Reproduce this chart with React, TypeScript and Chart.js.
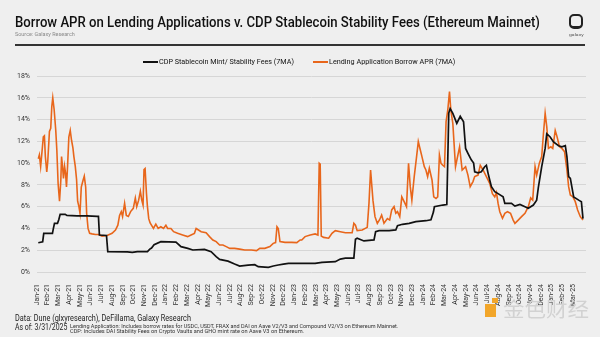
import React, { useEffect, useLayoutEffect, useRef } from "react";
import { Chart, registerables } from "chart.js";
Chart.register(...registerables);

const monthLabels = [
  "Jan-21","Feb-21","Mar-21","Apr-21","May-21","Jun-21","Jul-21","Aug-21","Sep-21","Oct-21","Nov-21","Dec-21",
  "Jan-22","Feb-22","Mar-22","Apr-22","May-22","Jun-22","Jul-22","Aug-22","Sep-22","Oct-22","Nov-22","Dec-22",
  "Jan-23","Feb-23","Mar-23","Apr-23","May-23","Jun-23","Jul-23","Aug-23","Sep-23","Oct-23","Nov-23","Dec-23",
  "Jan-24","Feb-24","Mar-24","Apr-24","May-24","Jun-24","Jul-24","Aug-24","Sep-24","Oct-24","Nov-24","Dec-24",
  "Jan-25","Feb-25","Mar-25",
];

// x = months since Jan 1 2021
const cdpMonths = [0.12,0.53,0.63,1.22,1.44,1.53,1.63,1.91,2.03,2.16,2.63,2.79,3.73,4.67,5.61,5.73,5.82,6.48,6.6,8.42,8.89,9.36,10.3,10.52,10.68,10.92,11.55,12.96,13.43,14.06,14.53,15.62,16.24,16.71,17.03,17.81,18.43,18.9,19.69,20.31,20.63,21.57,22.04,22.5,22.98,23.45,24.69,25.94,26.57,27.82,28.29,28.76,29.55,29.7,29.86,30.49,30.96,31.43,31.58,31.9,32.84,33.46,33.62,34.08,34.71,35.33,36.27,36.74,36.97,37.06,37.84,38.22,38.4,38.53,38.78,39.15,39.47,39.78,39.97,40.19,40.5,40.72,40.82,41.13,41.44,41.75,41.91,42.07,42.22,42.38,42.69,43.0,43.47,43.63,44.25,44.57,45.04,45.51,45.82,46.29,46.6,46.76,47.07,47.39,47.54,47.86,48.17,48.64,48.95,49.27,49.42,49.58,49.74,50.05,50.52,50.77,50.92];
const cdpValues = [2.69,2.78,3.55,3.55,3.55,4.0,4.47,4.47,4.8,5.3,5.3,5.2,5.15,5.15,5.1,5.1,3.4,3.35,1.87,1.85,1.8,1.87,1.87,2.1,2.2,2.5,2.79,2.75,2.33,2.17,2.02,2.08,1.87,1.41,1.16,1.0,0.73,0.55,0.64,0.67,0.49,0.43,0.55,0.64,0.73,0.79,0.79,0.79,0.89,0.95,1.19,1.28,1.28,3.0,3.1,2.85,2.9,2.95,3.7,3.8,3.8,3.86,4.25,4.38,4.47,4.62,4.71,4.8,5.5,5.99,6.15,6.2,14.6,15.0,14.57,13.65,14.3,13.8,11.35,10.9,10.3,10.0,9.2,9.1,9.2,9.67,9.8,9.06,8.45,7.84,7.38,7.2,6.9,6.3,6.3,6.05,6.2,6.0,5.85,6.15,6.6,7.8,9.67,11.35,12.7,12.4,11.95,11.6,11.5,11.6,10.6,8.76,8.6,6.9,6.6,6.46,4.9];

const lendMonths = [0.12,0.22,0.34,0.44,0.59,0.69,0.78,0.91,1.0,1.16,1.28,1.38,1.47,1.6,1.75,1.85,1.97,2.1,2.22,2.29,2.38,2.47,2.57,2.66,2.75,2.85,2.97,3.1,3.22,3.35,3.44,3.57,3.69,3.79,3.91,4.01,4.13,4.29,4.41,4.54,4.63,4.76,4.91,5.13,5.45,5.76,6.07,6.54,7.0,7.32,7.54,7.7,7.86,7.98,8.17,8.33,8.52,8.73,8.98,9.17,9.3,9.48,9.64,9.77,9.89,9.98,10.08,10.21,10.3,10.42,10.55,
  10.86,11.08,11.3,11.55,11.8,12.02,12.18,12.49,12.74,13.11,13.58,14.05,14.37,14.68,14.84,14.99,15.31,15.77,16.09,16.4,16.71,17.03,17.34,17.65,17.97,18.43,18.9,19.37,20.0,20.47,20.78,21.25,21.72,22.03,22.25,22.38,22.5,22.66,23.13,23.76,24.23,24.54,24.69,
  25.0,25.48,25.94,26.2,26.32,26.41,26.51,26.73,27.2,27.51,27.82,28.29,28.76,29.39,29.55,29.7,29.86,30.33,30.8,30.96,31.11,31.33,31.52,31.74,31.95,32.14,32.36,32.68,32.89,33.08,33.3,33.46,33.62,33.83,34.02,34.24,34.46,34.65,34.81,34.96,35.18,35.4,35.56,35.71,35.9,36.12,36.27,36.43,36.59,36.84,37.0,37.21,37.37,37.53,37.68,37.84,38.0,38.15,38.31,38.47,38.59,
  38.78,39.03,39.41,39.65,39.97,40.19,40.4,40.66,40.82,41.13,41.34,41.6,41.91,42.22,42.47,42.69,42.85,43.0,43.16,43.41,43.63,43.88,44.16,44.41,44.57,44.88,45.19,45.51,45.82,46.04,46.23,46.45,46.6,46.85,47.07,47.23,47.39,47.54,47.7,47.92,48.1,48.33,48.48,48.73,48.95,49.2,49.42,49.58,49.74,49.98,50.2,50.42,50.67,50.92];
const lendValues = [10.4,10.75,9.7,10.75,12.4,12.5,10.6,9.2,10.1,12.9,13.2,15.2,16.0,14.9,13.0,11.2,8.1,6.5,8.4,10.6,9.7,8.6,9.7,9.1,7.8,9.7,12.4,13.0,12.1,11.4,10.6,9.7,8.5,6.5,6.0,5.4,7.8,8.4,8.8,7.8,5.4,4.0,3.55,3.5,3.45,3.45,3.3,3.35,3.55,3.85,4.3,5.2,5.55,5.1,6.3,5.2,5.1,5.55,5.85,6.8,6.0,6.6,7.4,6.6,6.15,9.4,9.5,7.2,6.0,4.9,4.5,
  4.0,4.4,4.0,4.15,4.0,4.3,4.0,4.0,3.7,3.55,3.4,3.25,3.4,3.55,4.0,3.9,3.7,3.6,3.25,2.94,2.79,2.48,2.48,2.33,2.17,2.17,2.1,2.02,2.02,1.96,2.17,2.17,2.33,2.63,2.7,4.16,4.0,2.79,2.72,2.72,2.7,2.94,2.94,
  3.25,3.4,3.5,3.4,9.98,9.9,3.3,3.18,3.1,3.55,3.8,3.7,3.6,3.6,4.47,4.3,3.8,3.85,4.1,6.3,9.37,6.6,5.08,4.47,4.8,5.23,4.47,4.9,4.77,5.7,6.0,5.4,5.54,5.08,6.9,6.46,6.0,9.98,7.84,6.6,8.76,10.6,11.97,11.36,10.6,9.67,9.37,8.76,9.52,8.45,6.9,6.75,6.9,10.75,9.98,9.8,9.67,13.8,14.88,16.56,14.9,
  13.65,9.67,11.5,9.37,9.67,8.9,7.84,8.3,8.76,8.9,9.8,9.37,8.76,8.14,7.2,6.9,7.3,6.3,5.54,4.93,5.39,5.54,5.39,4.77,4.47,4.77,5.08,5.39,6.0,6.8,6.6,9.67,8.9,10.0,10.6,12.7,14.57,13.35,11.35,11.5,11.35,13.0,12.5,11.5,11.35,11.05,9.37,7.84,7.07,6.9,6.46,5.7,5.08,4.77];

const cdpLabel = "CDP Stablecoin Mint/ Stability Fees (7MA)";
const lendLabel = "Lending Application Borrow APR (7MA)";

const BLACK = "#111111";
const ORANGE = "#e8661b";

function FitText(props: {
  text: string; left: number; cy: number; width: number; size: number;
  color?: string; weight?: number; family?: string;
}) {
  const ref = useRef<HTMLSpanElement>(null);
  useLayoutEffect(() => {
    const el = ref.current;
    if (!el) return;
    el.style.transform = "translateY(-50%)";
    const w = el.offsetWidth;
    if (w > 0) el.style.transform = `translateY(-50%) scaleX(${props.width / w})`;
  }, [props.text, props.width]);
  return (
    <span
      ref={ref}
      style={{
        position: "absolute",
        left: props.left,
        top: props.cy,
        whiteSpace: "nowrap",
        fontSize: props.size,
        lineHeight: 1,
        fontWeight: props.weight ?? 400,
        color: props.color ?? "#222",
        fontFamily: props.family ?? "Roboto, 'Noto Sans', sans-serif",
        transformOrigin: "0 50%",
        transform: "translateY(-50%)",
      }}
    >
      {props.text}
    </span>
  );
}

export default function App() {
  const canvasRef = useRef<HTMLCanvasElement>(null);

  useEffect(() => {
    document.body.style.margin = "0";
    const canvas = canvasRef.current;
    if (!canvas) return;
    const tickFont = { family: "Roboto, sans-serif", size: 7 };
    const chart = new Chart(canvas, {
      type: "line",
      data: {
        datasets: [
          {
            label: cdpLabel,
            data: cdpMonths.map((m, i) => ({ x: m, y: cdpValues[i] })),
            borderColor: BLACK,
            backgroundColor: BLACK,
            borderWidth: 1.7,
            pointRadius: 0,
            tension: 0,
          },
          {
            label: lendLabel,
            data: lendMonths.map((m, i) => ({ x: m, y: lendValues[i] })),
            borderColor: ORANGE,
            backgroundColor: ORANGE,
            borderWidth: 1.6,
            pointRadius: 0,
            tension: 0,
          },
        ],
      },
      options: {
        responsive: false,
        animation: false,
        events: [],
        layout: { padding: { top: 76, left: 0, right: 14, bottom: 0 } },
        plugins: { legend: { display: false }, tooltip: { enabled: false }, title: { display: false } },
        scales: {
          x: {
            type: "linear",
            min: 0,
            max: 51.2,
            grid: { display: false },
            border: { display: false },
            afterBuildTicks: (s: any) => {
              s.ticks = monthLabels.map((_, i) => ({ value: i }));
            },
            afterFit: (s: any) => {
              s.height = 65;
            },
            ticks: {
              autoSkip: false,
              maxRotation: 90,
              minRotation: 90,
              padding: 4,
              color: "#333",
              font: tickFont,
              callback: (v: any) => monthLabels[Math.round(Number(v))] ?? "",
            },
          },
          y: {
            min: 0,
            max: 18,
            grid: { color: "#d6d6d6", lineWidth: 1, drawTicks: false },
            border: { display: false },
            afterFit: (s: any) => {
              s.width = 37;
            },
            ticks: {
              stepSize: 2,
              padding: 7,
              color: "#333",
              font: tickFont,
              callback: (v: any) => `${v}%`,
            },
          },
        },
      },
    });
    return () => chart.destroy();
  }, []);

  return (
    <div
      style={{
        position: "fixed",
        left: 0,
        top: 0,
        width: 600,
        height: 337,
        background: "#efefef",
        overflow: "hidden",
        fontFamily: "Roboto, sans-serif",
      }}
    >
      <canvas ref={canvasRef} width={600} height={337} style={{ position: "absolute", left: 0, top: 0, width: 600, height: 337 }} />

      <FitText text="Borrow APR on Lending Applications v. CDP Stablecoin Stability Fees (Ethereum Mainnet)" left={15} cy={22} width={525} size={14} weight={500} color="#111" />
      <FitText text="Source: Galaxy Research" left={15} cy={34} width={60} size={6} color="#8a8a8a" />
      <div style={{ position: "absolute", left: 15, top: 44, width: 570, height: 1.5, background: "#333" }} />

      {/* logo */}
      <div style={{ position: "absolute", left: 569, top: 14, width: 10, height: 10, border: "2px solid #222", borderBottomWidth: 3, borderRadius: 5 }} />
      <FitText text="galaxy" left={569} cy={35} width={14} size={4} color="#555" />

      {/* legend */}
      <div style={{ position: "absolute", left: 143, top: 61, width: 15, height: 2, background: BLACK }} />
      <FitText text={cdpLabel} left={158.5} cy={61.5} width={135} size={8} color="#111" />
      <div style={{ position: "absolute", left: 313, top: 61, width: 15, height: 2, background: ORANGE }} />
      <FitText text={lendLabel} left={328.5} cy={61.5} width={126} size={8} color="#111" />

      {/* footer */}
      <FitText text="Data: Dune (glxyresearch), DeFillama, Galaxy Research" left={15} cy={318} width={176} size={8.5} color="#222" />
      <FitText text="As of: 3/31/2025" left={15} cy={327} width={52} size={8.5} color="#222" />
      <FitText text="Lending Application: Includes borrow rates for USDC, USDT, FRAX and DAI on Aave V2/V3 and Compound V2/V3 on Ethereum Mainnet." left={70} cy={325.5} width={328} size={5} color="#333" />
      <FitText text="CDP: Includes DAI Stability Fees on Crypto Vaults and GHO mint rate on Aave V3 on Ethereum." left={70} cy={331} width={234} size={5} color="#333" />

      {/* watermark */}
      <div style={{ position: "absolute", left: 485, top: 304, width: 11, height: 13, background: "#f2a62a" }} />
      <div style={{ position: "absolute", left: 492, top: 298, width: 6, height: 5, background: "#f2a62a" }} />
      <FitText text="金色财经" left={503} cy={309} width={86} size={20} color="#d2d2d2" family="'Noto Sans CJK SC', sans-serif" />
    </div>
  );
}
